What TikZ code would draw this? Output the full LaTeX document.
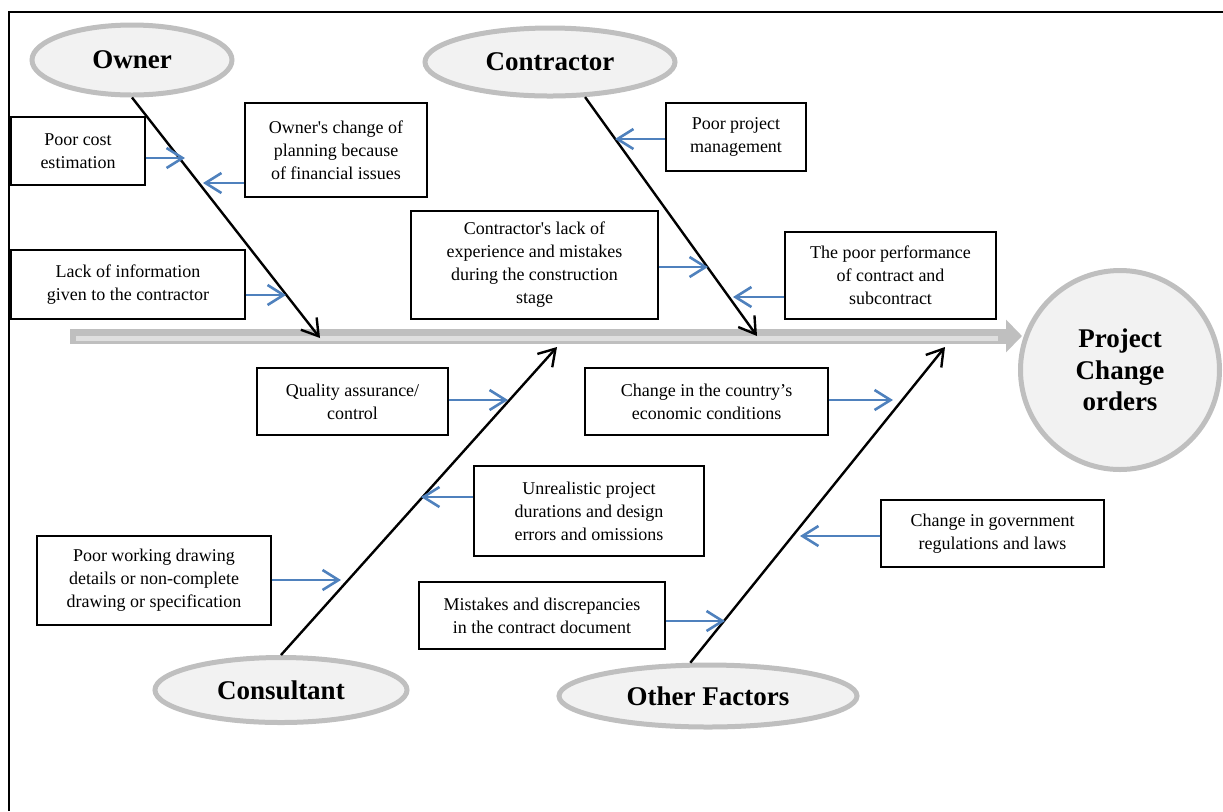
\documentclass[tikz,border=0pt]{standalone}
\usepackage{fontspec}
\setmainfont{Liberation Serif}
\usetikzlibrary{arrows.meta,shapes.geometric}
\definecolor{causeblue}{HTML}{4F81BD}

\begin{document}
\begin{tikzpicture}[x=0.5pt,y=-0.5pt,>={Straight Barb[length=8pt,width=10pt]},
  every node/.style={font=\fontsize{9}{11.5}\selectfont},
  cat/.style={ellipse,draw=gray!50,line width=2.5pt,fill=gray!10,inner sep=0pt,font=\fontsize{13.5}{15.75}\selectfont\bfseries},
  cbox/.style={rectangle,draw,line width=0.6pt,fill=white,align=center,inner sep=2pt},
  bone/.style={->,draw=black,line width=1.2pt},
  cause/.style={->,draw=causeblue,line width=1.3pt},
  spine/.style={line width=7.5pt,draw=gray!50,-{Triangle[length=8pt,width=16pt]}}]

\useasboundingbox (0,0) rectangle (1223,811);
\draw[line width=1pt] (9,811) -- (9,12) -- (1223,12);

% head and spine
\node[cat,circle,align=center,minimum size=99.5pt] (pco) at (1120,370) {Project\\Change\\orders};
\coordinate (tail) at (70,336);
\coordinate (head) at (tail -| pco.west);
\draw[spine] (tail) -- ([xshift=2pt]head);
\draw[gray!25,line width=2.5pt] ([shift={(3pt,-1pt)}]tail) -- ([shift={(-10pt,-1pt)}]head);

% categories
\node[cat,minimum width=100pt,minimum height=35pt]   (own)  at (132,60)  {Owner};
\node[cat,minimum width=125pt,minimum height=34pt]   (con)  at (550,62)  {Contractor};
\node[cat,minimum width=126pt,minimum height=32.5pt] (cons) at (281,690) {Consultant};
\node[cat,minimum width=149pt,minimum height=31pt]   (oth)  at (708,696) {Other Factors};

\coordinate (ownT) at (320,338);
\coordinate (conT) at (757,336);
\coordinate (consT) at (557,347);
\coordinate (othT) at (945,347);

\path (own.south)  edge[bone] (ownT)
      (con.-45)    edge[bone] (conT)
      (cons.north) edge[bone] (consT)
      (oth.118)    edge[bone] (othT);

% causes
\node[cbox,minimum width=67pt,minimum height=34pt]      (pce)  at (78,151)      {Poor cost\\estimation};
\node[cbox,minimum width=91pt,minimum height=47pt]      (ocp)  at (336,150)     {Owner\textquotesingle s change of\\planning because\\of financial issues};
\node[cbox,minimum width=117pt,minimum height=34.5pt]   (loi)  at (128,284.5)   {Lack of information\\given to the contractor};
\node[cbox,minimum width=70pt,minimum height=34pt]      (ppm)  at (736,137)     {Poor project\\management};
\node[cbox,minimum width=123.5pt,minimum height=54pt]   (cle)  at (534.5,265)   {Contractor\textquotesingle s lack of\\experience and mistakes\\during the construction\\stage};
\node[cbox,minimum width=105.5pt,minimum height=43.5pt] (tpp)  at (890.5,275.5) {The poor performance\\of contract and\\subcontract};
\node[cbox,minimum width=95.5pt,minimum height=33.5pt]  (qac)  at (352.5,401.5) {Quality assurance/\\control};
\node[cbox,minimum width=121.5pt,minimum height=33.5pt] (cec)  at (706.5,401.5) {Change in the country’s\\economic conditions};
\node[cbox,minimum width=115pt,minimum height=45pt]     (upd)  at (589,511)     {Unrealistic project\\durations and design\\errors and omissions};
\node[cbox,minimum width=111.5pt,minimum height=33.5pt] (cgr)  at (992.5,533.5) {Change in government\\regulations and laws};
\node[cbox,minimum width=117pt,minimum height=44.5pt]   (pwd)  at (154,580.5)   {Poor working drawing\\details or non-complete\\drawing or specification};
\node[cbox,minimum width=123pt,minimum height=33.5pt]   (mdc)  at (542,615.5)   {Mistakes and discrepancies\\in the contract document};

\coordinate (t1) at (185,158);
\coordinate (t2) at (203,183);
\coordinate (t3) at (286,295);
\coordinate (t4) at (615,139);
\coordinate (t5) at (708,267);
\coordinate (t6) at (733,297);
\coordinate (t7) at (508,400);
\coordinate (t8) at (893,400);
\coordinate (t9) at (421,497);
\coordinate (t10) at (800,536);
\coordinate (t11) at (341,580);
\coordinate (t12) at (725,621);

\path (t1 -| pce.east) edge[cause] (t1)
      (t2 -| ocp.west) edge[cause] (t2)
      (t3 -| loi.east) edge[cause] (t3)
      (t4 -| ppm.west) edge[cause] (t4)
      (t5 -| cle.east) edge[cause] (t5)
      (t6 -| tpp.west) edge[cause] (t6)
      (t7 -| qac.east) edge[cause] (t7)
      (t8 -| cec.east) edge[cause] (t8)
      (t9 -| upd.west) edge[cause] (t9)
      (t10 -| cgr.west) edge[cause] (t10)
      (t11 -| pwd.east) edge[cause] (t11)
      (t12 -| mdc.east) edge[cause] (t12);

\end{tikzpicture}
\end{document}
